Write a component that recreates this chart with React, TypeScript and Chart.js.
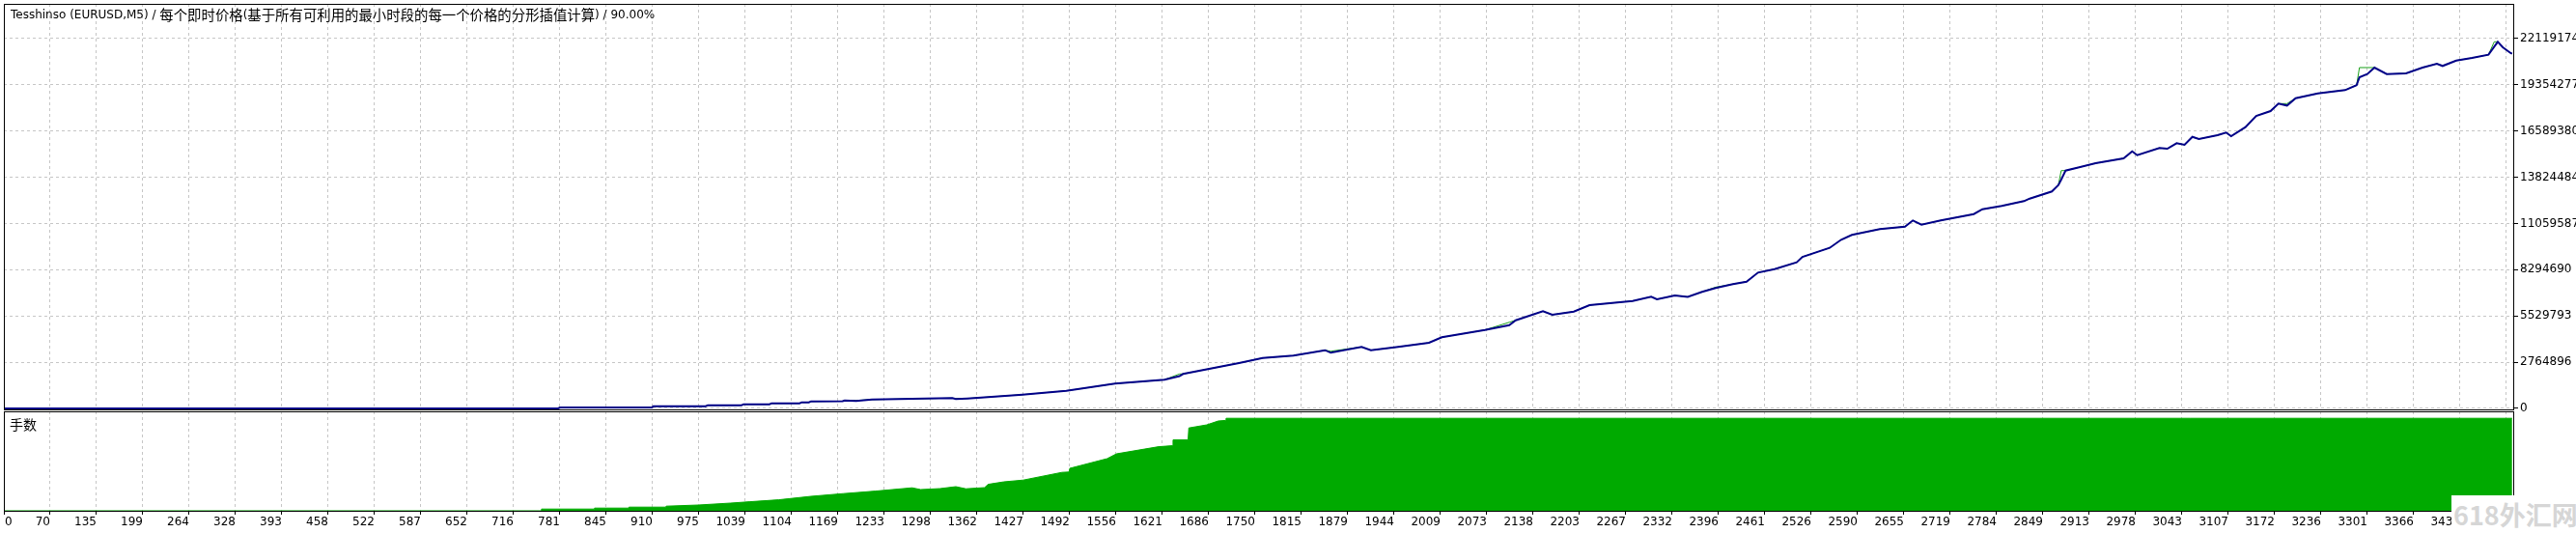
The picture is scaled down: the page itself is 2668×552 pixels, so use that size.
import React, { useEffect, useRef } from "react";
import { Chart, registerables } from "chart.js";

Chart.register(...registerables);

const TITLE =
  "Tesshinso (EURUSD,M5) / 每个即时价格(基于所有可利用的最小时段的每一个价格的分形插值计算) / 90.00%";
const LOTS_LABEL = "手数";
const WATERMARK = "618外汇网";

// x axis (trade numbers)
const xTickLabels = [
  "0", "70", "135", "199", "264", "328", "393", "458", "522", "587", "652", "716",
  "781", "845", "910", "975", "1039", "1104", "1169", "1233", "1298", "1362", "1427",
  "1492", "1556", "1621", "1686", "1750", "1815", "1879", "1944", "2009", "2073",
  "2138", "2203", "2267", "2332", "2396", "2461", "2526", "2590", "2655", "2719",
  "2784", "2849", "2913", "2978", "3043", "3107", "3172", "3236", "3301", "3366",
  "3431", "3495",
];
const xTickStep = 64.65;
const xMin = 0;
const xMax = 3501.9;

// y axis (equity / balance)
const yTickValues = [
  0, 2764896.8, 5529793.6, 8294690.4, 11059587.2, 13824484, 16589380.8, 19354277.6,
  22119174.4,
];
const yTickLabels = [
  "0", "2764896", "5529793", "8294690", "11059587", "13824484", "16589380",
  "19354277", "22119174",
];
const equityMin = -115445;
const equityMax = 24185633;

const tradeNo = [
  0, 773, 776, 904, 906, 979, 982, 1029, 1032, 1068,
  1071, 1110, 1113, 1123, 1126, 1170, 1173, 1189, 1211, 1323,
  1328, 1344, 1421, 1482, 1550, 1619, 1640, 1645, 1723, 1756,
  1799, 1843, 1851, 1894, 1907, 1945, 1988, 2006, 2066, 2100,
  2109, 2147, 2160, 2190, 2212, 2272, 2298, 2306, 2331, 2349,
  2369, 2388, 2412, 2431, 2447, 2470, 2501, 2509, 2547, 2563,
  2578, 2617, 2652, 2663, 2675, 2702, 2748, 2760, 2787, 2818,
  2826, 2857, 2866, 2870, 2876, 2895, 2918, 2957, 2969, 2976,
  3007, 3018, 3031, 3042, 3053, 3062, 3088, 3100, 3107, 3127,
  3142, 3162, 3173, 3185, 3197, 3228, 3266, 3282, 3286, 3297,
  3307, 3324, 3351, 3374, 3394, 3402, 3421, 3443, 3466, 3474,
  3479, 3486, 3497, 3499,
];

const equity = [
  5000, 5000, 58000, 58000, 133000, 133000, 190000, 190000, 248000, 248000,
  306000, 306000, 364000, 364000, 421000, 433000, 479000, 450000, 531000, 618000,
  560000, 595000, 825000, 1056000, 1483000, 1714000, 1934000, 2061000, 2713000, 3019000,
  3157000, 3481000, 3331000, 3677000, 3481000, 3677000, 3925000, 4254000, 4693000, 4981000,
  5270000, 5813000, 5599000, 5790000, 6176000, 6424000, 6678000, 6523000, 6753000, 6667000,
  6967000, 7198000, 7429000, 7579000, 8121000, 8329000, 8733000, 9062000, 9599000, 10084000,
  10373000, 10719000, 10869000, 11238000, 10984000, 11238000, 11619000, 11908000, 12104000, 12393000,
  12543000, 12970000, 13351000, 13680000, 14217000, 14413000, 14661000, 14950000, 15371000, 15140000,
  15568000, 15527000, 15856000, 15758000, 16237000, 16104000, 16335000, 16491000, 16278000, 16814000,
  17490000, 17778000, 18223000, 18107000, 18546000, 18835000, 19031000, 19320000, 19799000, 19989000,
  20376000, 19989000, 20030000, 20376000, 20607000, 20474000, 20797000, 20953000, 21144000, 21623000,
  21917000, 21588000, 21242000, 21201000,
];

const balance = [
  5000, 5000, 58000, 58000, 133000, 133000, 190000, 190000, 248000, 248000,
  306000, 306000, 364000, 364000, 421000, 433000, 479000, 479000, 531000, 618000,
  590000, 595000, 825000, 1056000, 1483000, 1714000, 2061000, 2061000, 2713000, 3019000,
  3157000, 3481000, 3420000, 3677000, 3481000, 3677000, 3925000, 4254000, 4693000, 5150000,
  5270000, 5813000, 5599000, 5790000, 6176000, 6424000, 6678000, 6523000, 6753000, 6667000,
  6967000, 7250000, 7429000, 7579000, 8121000, 8329000, 8733000, 9062000, 9599000, 10084000,
  10373000, 10719000, 10869000, 11238000, 10984000, 11238000, 11619000, 11908000, 12104000, 12393000,
  12543000, 12970000, 13351000, 14217000, 14217000, 14413000, 14661000, 14950000, 15371000, 15140000,
  15568000, 15527000, 15856000, 15758000, 16237000, 16104000, 16335000, 16491000, 16278000, 16814000,
  17490000, 17778000, 18223000, 18223000, 18546000, 18835000, 19031000, 19320000, 20376000, 20376000,
  20376000, 19989000, 20030000, 20376000, 20607000, 20474000, 20797000, 20953000, 21144000, 21917000,
  21917000, 21588000, 21242000, 21201000,
];

// lots panel
const lotsTrade = [
  0, 749, 750, 823, 824, 871, 872, 923, 924, 969,
  1014, 1041, 1081, 1126, 1171, 1216, 1267, 1279, 1306, 1328,
  1342, 1368, 1373, 1395, 1422, 1476, 1486, 1487, 1539, 1552,
  1611, 1630, 1631, 1652, 1653, 1678, 1694, 1704, 1705, 3499,
];
const lots = [
  0, 0, 0.9, 0.9, 1.4, 1.4, 1.9, 1.9, 2.4, 3.0,
  4.0, 4.7, 5.7, 7.5, 8.9, 10.2, 11.9, 11.0, 11.5, 12.5,
  11.4, 12.0, 13.7, 15.0, 15.9, 19.9, 20.1, 22.0, 27.0, 29.5,
  33.2, 33.7, 36.7, 36.7, 42.9, 44.5, 46.5, 46.8, 47.9, 47.9,
];
const lotsMin = -0.5;
const lotsMax = 51.5;

const W = 2668;
const H = 552;
const TOP_H = 425;
const LOW_TOP = 425;
const LOW_H = H - LOW_TOP;

const GRID_COLOR = "#c6c6c6";
const AXIS_FAMILY = '"DejaVu Sans", Verdana, sans-serif';
const AXIS_SIZE = 12;
const LATIN = `${AXIS_SIZE}px ${AXIS_FAMILY}`;
const CJK = '14.4px "Noto Sans CJK SC", sans-serif';

function drawMixedText(ctx: CanvasRenderingContext2D, text: string, x: number, y: number) {
  const parts = text.split(/([\u2E80-\u9FFF\u3000-\u303F\uFF00-\uFFEF]+)/);
  let cx = x;
  parts.forEach((p, i) => {
    if (!p) return;
    ctx.font = i % 2 === 1 ? CJK : LATIN;
    ctx.fillText(p, cx, y);
    cx += ctx.measureText(p).width;
  });
}

function framePlugin(id: string, extra: (ctx: CanvasRenderingContext2D, chart: any) => void) {
  return {
    id,
    afterDraw(chart: any) {
      const { ctx, chartArea } = chart;
      const { left, top, right, bottom } = chartArea;
      ctx.save();
      ctx.setLineDash([]);
      ctx.strokeStyle = "#000";
      ctx.lineWidth = 1;
      ctx.strokeRect(left + 0.5, top + 0.5, right - left - 1, bottom - top - 1);
      ctx.fillStyle = "#000";
      ctx.textBaseline = "middle";
      ctx.textAlign = "left";
      extra(ctx, chart);
      ctx.restore();
    },
  };
}

function xTicks(scale: any) {
  scale.ticks = xTickLabels.map((_, i) => ({ value: i * xTickStep }));
}

export default function App() {
  const topRef = useRef<HTMLCanvasElement | null>(null);
  const lowRef = useRef<HTMLCanvasElement | null>(null);

  useEffect(() => {
    if (!topRef.current || !lowRef.current) return;

    const topChart = new Chart(topRef.current, {
      type: "line",
      data: {
        datasets: [
          {
            label: "Equity",
            data: tradeNo.map((t, i) => ({ x: t, y: equity[i] })),
            borderColor: "#000088",
            borderWidth: 2,
            pointRadius: 0,
            tension: 0,
          },
          {
            label: "Balance",
            data: tradeNo.map((t, i) => ({ x: t, y: balance[i] })),
            borderColor: "#1aa01a",
            borderWidth: 1,
            pointRadius: 0,
            tension: 0,
          },
        ],
      },
      options: {
        responsive: false,
        animation: false,
        events: [],
        layout: { padding: { left: 4, top: 4, right: 0, bottom: H - TOP_H } },
        plugins: { legend: { display: false }, tooltip: { enabled: false }, title: { display: false } },
        scales: {
          x: {
            type: "linear",
            min: xMin,
            max: xMax,
            afterBuildTicks: xTicks,
            afterFit: (s: any) => {
              s.height = 0;
              s.paddingLeft = 0;
              s.paddingRight = 0;
            },
            ticks: { display: false },
            grid: { color: GRID_COLOR, lineWidth: 1, drawTicks: false },
            border: { display: false, dash: [3, 3] },
          },
          y: {
            type: "linear",
            position: "right",
            min: equityMin,
            max: equityMax,
            afterBuildTicks: (s: any) => {
              s.ticks = yTickValues.map((v) => ({ value: v }));
            },
            afterFit: (s: any) => {
              s.width = W - 2604;
              s.paddingTop = 0;
              s.paddingBottom = 0;
            },
            ticks: {
              color: "#000",
              padding: 2,
              font: { family: AXIS_FAMILY, size: AXIS_SIZE },
              callback: (_v: any, i: number) => yTickLabels[i],
            },
            grid: {
              color: GRID_COLOR,
              lineWidth: 1,
              tickColor: "#000",
              tickLength: 4,
              tickBorderDash: [],
            },
            border: { display: false, dash: [3, 3] },
          },
        },
      },
      plugins: [
        framePlugin("topFrame", (ctx) => {
          drawMixedText(ctx, TITLE, 11, 16);
        }),
      ],
    } as any);

    const lowChart = new Chart(lowRef.current, {
      type: "line",
      data: {
        datasets: [
          {
            label: "Lots",
            data: lotsTrade.map((t, i) => ({ x: t, y: lots[i] })),
            borderColor: "#00aa00",
            backgroundColor: "#00aa00",
            borderWidth: 1,
            pointRadius: 0,
            tension: 0,
            fill: "origin",
          },
        ],
      },
      options: {
        responsive: false,
        animation: false,
        events: [],
        layout: { padding: { left: 4, top: 1, right: W - 2604, bottom: 0 } },
        plugins: { legend: { display: false }, tooltip: { enabled: false } },
        scales: {
          x: {
            type: "linear",
            min: xMin,
            max: xMax,
            afterBuildTicks: xTicks,
            afterFit: (s: any) => {
              s.height = 22;
              s.paddingLeft = 0;
              s.paddingRight = 0;
            },
            ticks: {
              color: "#000",
              padding: 1,
              autoSkip: false,
              maxRotation: 0,
              minRotation: 0,
              align: "end",
              font: { family: AXIS_FAMILY, size: AXIS_SIZE },
              callback: (_v: any, i: number) => (i === 0 ? "" : xTickLabels[i]),
            },
            grid: {
              color: GRID_COLOR,
              lineWidth: 1,
              tickColor: "#000",
              tickLength: 3,
              tickBorderDash: [],
            },
            border: { display: false, dash: [3, 3] },
          },
          y: {
            type: "linear",
            display: false,
            min: lotsMin,
            max: lotsMax,
          },
        },
      },
      plugins: [
        framePlugin("lowFrame", (ctx, chart) => {
          ctx.font = '14px "Noto Sans CJK SC", sans-serif';
          ctx.fillText(LOTS_LABEL, 10, 15);
          const xs = chart.scales.x;
          ctx.font = LATIN;
          ctx.fillText(xTickLabels[0], xs.getPixelForValue(0) + 1, xs.top + 3 + 1 + AXIS_SIZE * 0.6);
        }),
      ],
    } as any);

    return () => {
      topChart.destroy();
      lowChart.destroy();
    };
  }, []);

  return (
    <div
      style={{
        position: "fixed",
        left: 0,
        top: 0,
        width: W,
        height: H,
        background: "#fff",
        overflow: "hidden",
      }}
    >
      <canvas
        ref={lowRef}
        width={W}
        height={LOW_H}
        style={{ position: "absolute", left: 0, top: LOW_TOP, width: W, height: LOW_H }}
      />
      <canvas
        ref={topRef}
        width={W}
        height={H}
        style={{ position: "absolute", left: 0, top: 0, width: W, height: H }}
      />
      <div
        style={{
          position: "absolute",
          left: 2539,
          top: 513,
          width: W - 2539,
          height: H - 513,
          background: "#fff",
          color: "#d6d6d6",
          fontFamily: '"Noto Sans CJK SC", sans-serif',
          fontWeight: 700,
          fontSize: 27,
          lineHeight: `${H - 513}px`,
          paddingLeft: 2,
          boxSizing: "border-box",
          whiteSpace: "nowrap",
          overflow: "hidden",
        }}
      >
        {WATERMARK}
      </div>
    </div>
  );
}
